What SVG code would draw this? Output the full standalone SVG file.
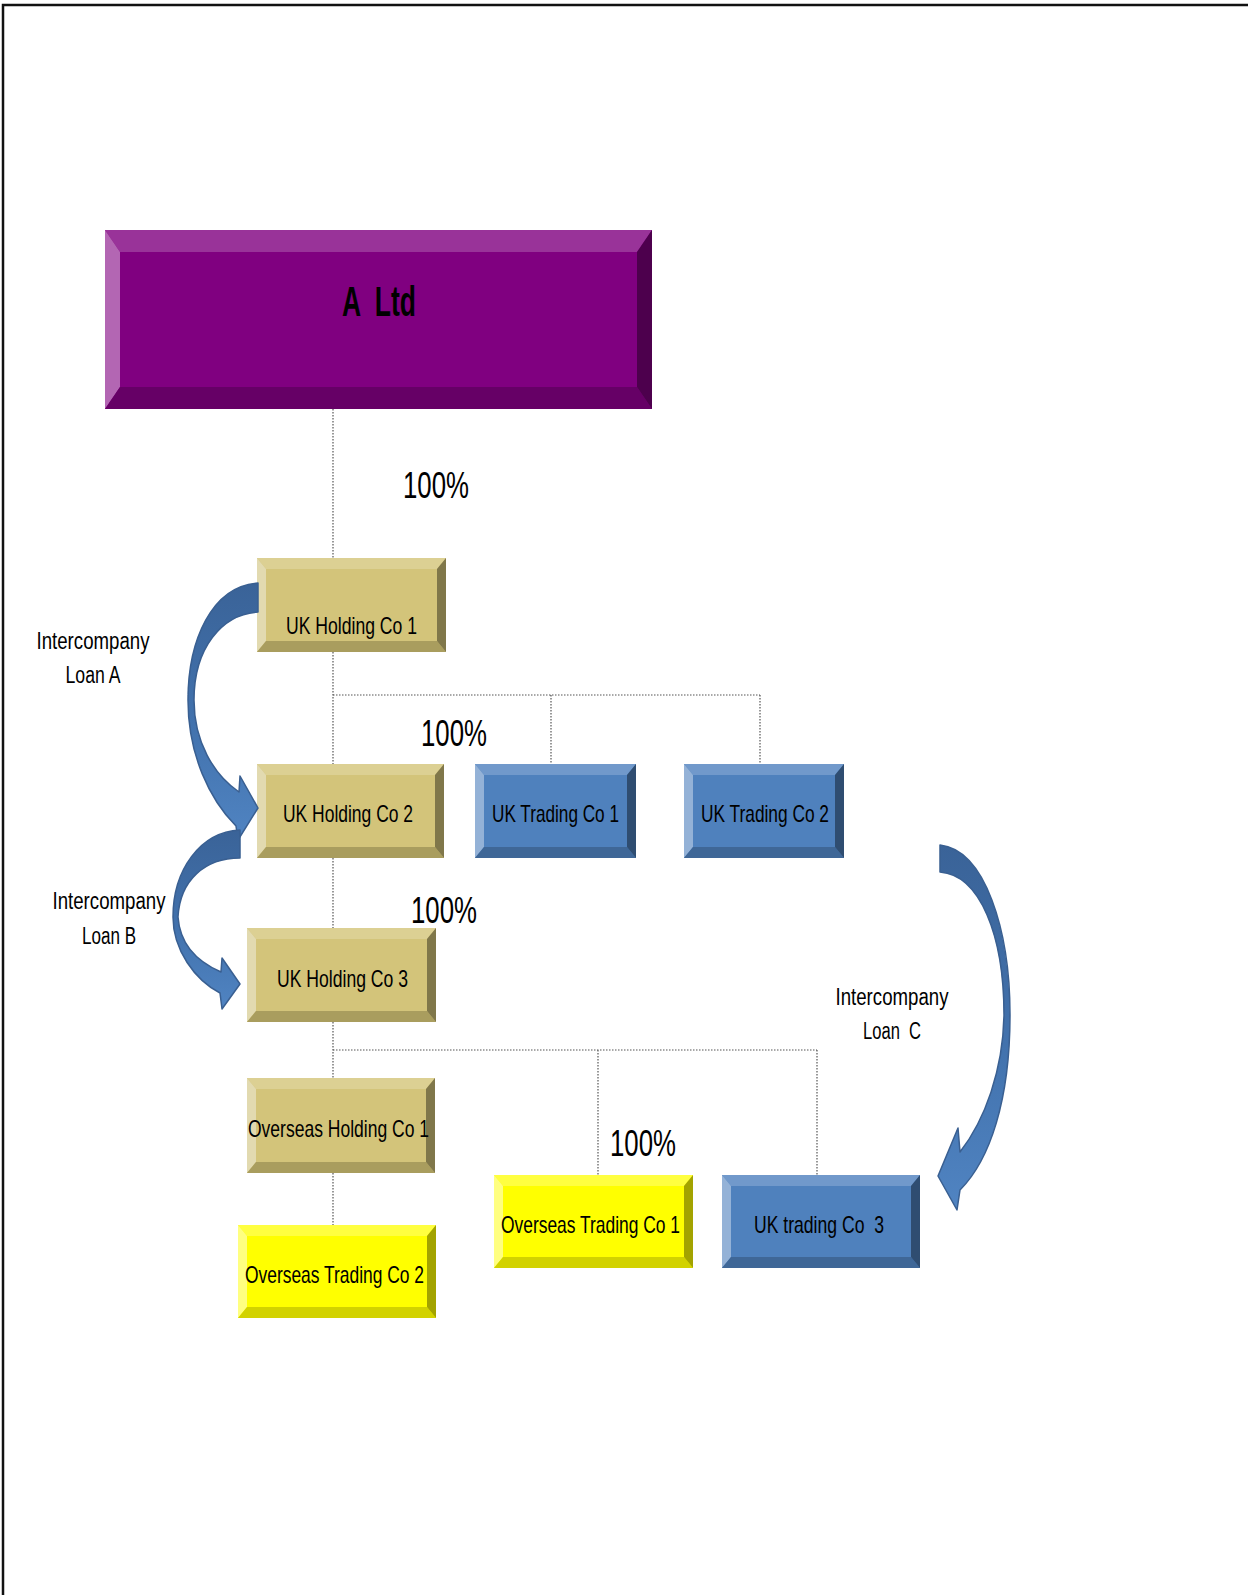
<svg xmlns="http://www.w3.org/2000/svg" width="1248" height="1595" viewBox="0 0 1248 1595">
  <style>
    .lbl { font-family: "Liberation Sans", Arial, sans-serif; fill: #000; white-space: pre; }
    .box { font-size: 24px; text-anchor: middle; }
    .pct { font-size: 37px; }
    .note { font-size: 23px; text-anchor: middle; }
    .link { fill: none; stroke: #555; stroke-width: 1.2; stroke-dasharray: 1.5 1.5; }
    .p-face { fill: #800080; } .p-t { fill: #993399; } .p-l { fill: #b366b3; } .p-b { fill: #660066; } .p-r { fill: #4d004d; }
    .k-face { fill: #d3c47a; } .k-t { fill: #dcd093; } .k-l { fill: #e2dab0; } .k-b { fill: #a99d5e; } .k-r { fill: #80774a; }
    .b-face { fill: #4f81bd; } .b-t { fill: #7199cb; } .b-l { fill: #94b2d7; } .b-b { fill: #3f6797; } .b-r { fill: #2f4d71; }
    .y-face { fill: #ffff00; } .y-t { fill: #ffff40; } .y-l { fill: #ffff80; } .y-b { fill: #d2d200; } .y-r { fill: #a3a300; }
    .loan { fill: url(#loanGrad); stroke: #395f91; stroke-width: 1.5; stroke-linejoin: round; }
  </style>
  <defs>
    <linearGradient id="loanGrad" x1="0" y1="0" x2="0" y2="1">
      <stop offset="0" stop-color="#3a6398"/>
      <stop offset="0.55" stop-color="#4272ad"/>
      <stop offset="1" stop-color="#5084c2"/>
    </linearGradient>
  </defs>

  <rect width="1248" height="1595" fill="#fff"/>
  <!-- page frame: top and left rules only -->
  <path d="M3 1595 V5 H1248" fill="none" stroke="#111" stroke-width="2.5"/>

  <!-- ownership connectors -->
  <g id="connectors">
    <path class="link" d="M333 409 V558"/>
    <path class="link" d="M333 652 V764"/>
    <path class="link" d="M333 695 H760 M551 695 V764 M760 695 V764"/>
    <path class="link" d="M333 858 V928"/>
    <path class="link" d="M333 1022 V1078"/>
    <path class="link" d="M333 1050 H817 M598 1050 V1175 M817 1050 V1175"/>
    <path class="link" d="M333 1173 V1225"/>
  </g>

  <!-- A Ltd -->
  <g id="a-ltd">
    <rect class="p-face" x="105" y="230" width="547" height="179"/>
    <polygon class="p-t" points="105,230 652,230 637,252 120,252"/>
    <polygon class="p-l" points="105,230 120,252 120,387 105,409"/>
    <polygon class="p-b" points="105,409 120,387 637,387 652,409"/>
    <polygon class="p-r" points="652,230 652,409 637,387 637,252"/>
    <text class="lbl" x="379" y="316" font-size="43" font-weight="bold" text-anchor="middle" textLength="74" lengthAdjust="spacingAndGlyphs" xml:space="preserve">A  Ltd</text>
  </g>

  <!-- UK Holding Co 1 -->
  <g id="uk-holding-1">
    <rect class="k-face" x="257" y="558" width="189" height="94"/>
    <polygon class="k-t" points="257,558 446,558 437,569 266,569"/>
    <polygon class="k-l" points="257,558 266,569 266,641 257,652"/>
    <polygon class="k-b" points="257,652 266,641 437,641 446,652"/>
    <polygon class="k-r" points="446,558 446,652 437,641 437,569"/>
    <text class="lbl box" x="351.5" y="634" textLength="131" lengthAdjust="spacingAndGlyphs">UK Holding Co 1</text>
  </g>

  <!-- UK Holding Co 2 -->
  <g id="uk-holding-2">
    <rect class="k-face" x="257" y="764" width="187" height="94"/>
    <polygon class="k-t" points="257,764 444,764 435,775 266,775"/>
    <polygon class="k-l" points="257,764 266,775 266,847 257,858"/>
    <polygon class="k-b" points="257,858 266,847 435,847 444,858"/>
    <polygon class="k-r" points="444,764 444,858 435,847 435,775"/>
    <text class="lbl box" x="348" y="822" textLength="130" lengthAdjust="spacingAndGlyphs">UK Holding Co 2</text>
  </g>

  <!-- UK Trading Co 1 -->
  <g id="uk-trading-1">
    <rect class="b-face" x="475" y="764" width="161" height="94"/>
    <polygon class="b-t" points="475,764 636,764 627,775 484,775"/>
    <polygon class="b-l" points="475,764 484,775 484,847 475,858"/>
    <polygon class="b-b" points="475,858 484,847 627,847 636,858"/>
    <polygon class="b-r" points="636,764 636,858 627,847 627,775"/>
    <text class="lbl box" x="555.5" y="822" textLength="127" lengthAdjust="spacingAndGlyphs">UK Trading Co 1</text>
  </g>

  <!-- UK Trading Co 2 -->
  <g id="uk-trading-2">
    <rect class="b-face" x="684" y="764" width="160" height="94"/>
    <polygon class="b-t" points="684,764 844,764 835,775 693,775"/>
    <polygon class="b-l" points="684,764 693,775 693,847 684,858"/>
    <polygon class="b-b" points="684,858 693,847 835,847 844,858"/>
    <polygon class="b-r" points="844,764 844,858 835,847 835,775"/>
    <text class="lbl box" x="765" y="822" textLength="128" lengthAdjust="spacingAndGlyphs">UK Trading Co 2</text>
  </g>

  <!-- UK Holding Co 3 -->
  <g id="uk-holding-3">
    <rect class="k-face" x="247" y="928" width="189" height="94"/>
    <polygon class="k-t" points="247,928 436,928 427,939 256,939"/>
    <polygon class="k-l" points="247,928 256,939 256,1011 247,1022"/>
    <polygon class="k-b" points="247,1022 256,1011 427,1011 436,1022"/>
    <polygon class="k-r" points="436,928 436,1022 427,1011 427,939"/>
    <text class="lbl box" x="342.5" y="987" textLength="131" lengthAdjust="spacingAndGlyphs">UK Holding Co 3</text>
  </g>

  <!-- Overseas Holding Co 1 -->
  <g id="overseas-holding-1">
    <rect class="k-face" x="247" y="1078" width="188" height="95"/>
    <polygon class="k-t" points="247,1078 435,1078 426,1089 256,1089"/>
    <polygon class="k-l" points="247,1078 256,1089 256,1162 247,1173"/>
    <polygon class="k-b" points="247,1173 256,1162 426,1162 435,1173"/>
    <polygon class="k-r" points="435,1078 435,1173 426,1162 426,1089"/>
    <text class="lbl box" x="338.5" y="1137" textLength="181" lengthAdjust="spacingAndGlyphs">Overseas Holding Co 1</text>
  </g>

  <!-- Overseas Trading Co 2 -->
  <g id="overseas-trading-2">
    <rect class="y-face" x="238" y="1225" width="198" height="93"/>
    <polygon class="y-t" points="238,1225 436,1225 427,1236 247,1236"/>
    <polygon class="y-l" points="238,1225 247,1236 247,1307 238,1318"/>
    <polygon class="y-b" points="238,1318 247,1307 427,1307 436,1318"/>
    <polygon class="y-r" points="436,1225 436,1318 427,1307 427,1236"/>
    <text class="lbl box" x="334.5" y="1283" textLength="179" lengthAdjust="spacingAndGlyphs">Overseas Trading Co 2</text>
  </g>

  <!-- Overseas Trading Co 1 -->
  <g id="overseas-trading-1">
    <rect class="y-face" x="494" y="1175" width="199" height="93"/>
    <polygon class="y-t" points="494,1175 693,1175 684,1186 503,1186"/>
    <polygon class="y-l" points="494,1175 503,1186 503,1257 494,1268"/>
    <polygon class="y-b" points="494,1268 503,1257 684,1257 693,1268"/>
    <polygon class="y-r" points="693,1175 693,1268 684,1257 684,1186"/>
    <text class="lbl box" x="590.5" y="1233" textLength="179" lengthAdjust="spacingAndGlyphs">Overseas Trading Co 1</text>
  </g>

  <!-- UK trading Co 3 -->
  <g id="uk-trading-3">
    <rect class="b-face" x="722" y="1175" width="198" height="93"/>
    <polygon class="b-t" points="722,1175 920,1175 911,1186 731,1186"/>
    <polygon class="b-l" points="722,1175 731,1186 731,1257 722,1268"/>
    <polygon class="b-b" points="722,1268 731,1257 911,1257 920,1268"/>
    <polygon class="b-r" points="920,1175 920,1268 911,1257 911,1186"/>
    <text class="lbl box" x="819" y="1233" textLength="130" lengthAdjust="spacingAndGlyphs" xml:space="preserve">UK trading Co  3</text>
  </g>

  <!-- shareholding percentages -->
  <g id="percentages">
    <text class="lbl pct" x="403" y="498" textLength="66" lengthAdjust="spacingAndGlyphs">100%</text>
    <text class="lbl pct" x="421" y="746" textLength="66" lengthAdjust="spacingAndGlyphs">100%</text>
    <text class="lbl pct" x="411" y="923" textLength="66" lengthAdjust="spacingAndGlyphs">100%</text>
    <text class="lbl pct" x="610" y="1156" textLength="66" lengthAdjust="spacingAndGlyphs">100%</text>
  </g>

  <!-- intercompany loan arrows -->
  <g id="loan-a">
    <path class="loan" d="M258 583 C212 586 188 640 188 700 C188 755 210 800 236 826 L238 840 L258 808 L240 776 L239 792 C214 775 194 742 194 700 C194 648 222 614 258 612 Z"/>
    <text class="lbl note" x="93" y="649" textLength="113" lengthAdjust="spacingAndGlyphs">Intercompany</text>
    <text class="lbl note" x="93" y="683" textLength="55" lengthAdjust="spacingAndGlyphs">Loan A</text>
  </g>
  <g id="loan-b">
    <path class="loan" d="M240 830 C200 832 173 870 173 917 C173 950 195 980 220 993 L222 1009 L240 984 L222 958 L221 972 C198 962 180 945 178 917 C180 880 205 858 240 858 Z"/>
    <text class="lbl note" x="109" y="909" textLength="113" lengthAdjust="spacingAndGlyphs">Intercompany</text>
    <text class="lbl note" x="109" y="944" textLength="54" lengthAdjust="spacingAndGlyphs">Loan B</text>
  </g>
  <g id="loan-c">
    <path class="loan" d="M940 845 C985 850 1010 930 1010 1015 C1010 1100 990 1160 960 1190 L957 1210 L938 1176 L958 1128 L960 1152 C985 1120 1003 1070 1004 1015 C1004 935 980 875 940 872 Z"/>
    <text class="lbl note" x="892" y="1005" textLength="113" lengthAdjust="spacingAndGlyphs">Intercompany</text>
    <text class="lbl note" x="892" y="1039" textLength="58" lengthAdjust="spacingAndGlyphs" xml:space="preserve">Loan  C</text>
  </g>
</svg>
